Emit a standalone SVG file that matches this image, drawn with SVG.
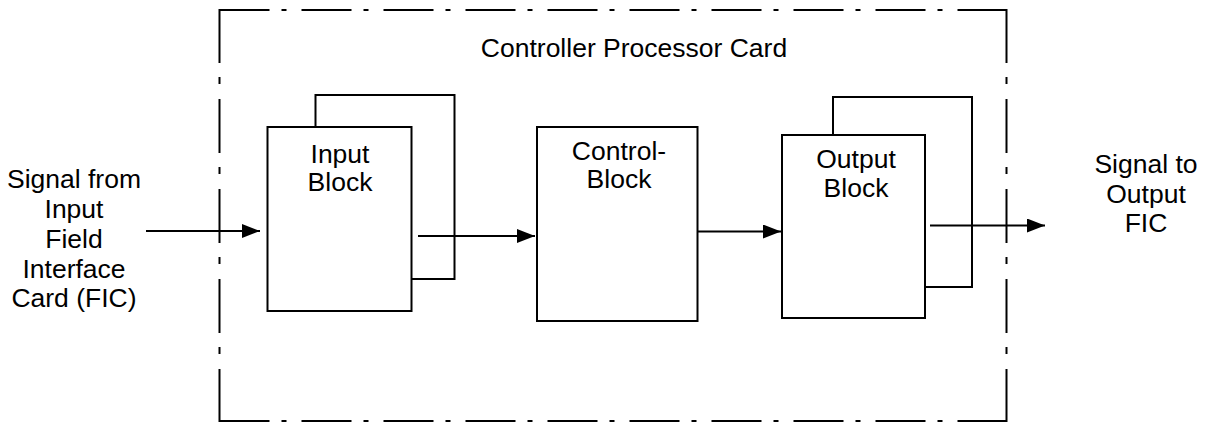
<svg xmlns="http://www.w3.org/2000/svg" width="1206" height="423" viewBox="0 0 1206 423">
<style>
.box{fill:#fff;stroke:#000;stroke-width:2}
.fh{stroke:#000;stroke-width:2;fill:none;stroke-dasharray:50 12 5 15}
.fv{stroke:#000;stroke-width:2;fill:none;stroke-dasharray:54 14 7 15}
.ln{stroke:#000;stroke-width:2;fill:none}
text{font-family:"Liberation Sans",Arial,sans-serif;font-size:26.5px;fill:#000;text-anchor:middle}
</style>
<defs>
<marker id="ah" markerUnits="userSpaceOnUse" markerWidth="18" markerHeight="14" refX="18" refY="7" orient="auto">
<path d="M0,0 L18,7 L0,14 z" fill="#000"/>
</marker>
</defs>
<g id="frame">
<line class="fh" x1="219.5" y1="10" x2="1006.5" y2="10"/>
<line class="fh" x1="219.5" y1="421" x2="1006.5" y2="421"/>
<line class="fv" x1="219.5" y1="9" x2="219.5" y2="422"/>
<line class="fv" x1="1006.5" y1="9" x2="1006.5" y2="422"/>
<text x="634" y="57">Controller Processor Card</text>
</g>
<g id="input-label">
<text x="74" y="188">Signal from</text>
<text x="74" y="218">Input</text>
<text x="74" y="248">Field</text>
<text x="74" y="278">Interface</text>
<text x="74" y="307">Card (FIC)</text>
</g>
<g id="input-block">
<rect class="box" x="315.5" y="95" width="139" height="184"/>
<rect class="box" x="267.5" y="127" width="144" height="184"/>
<text x="340" y="163">Input</text>
<text x="340" y="191">Block</text>
</g>
<g id="control-block">
<rect class="box" x="537" y="127" width="160.5" height="194"/>
<text x="619" y="159.5">Control-</text>
<text x="619" y="187.5">Block</text>
</g>
<g id="output-block">
<rect class="box" x="833" y="97" width="139" height="190"/>
<rect class="box" x="782" y="135" width="143" height="183"/>
<text x="856" y="168">Output</text>
<text x="856" y="197">Block</text>
</g>
<g id="output-label">
<text x="1146" y="173">Signal to</text>
<text x="1146" y="203">Output</text>
<text x="1146" y="232">FIC</text>
</g>
<g id="connectors">
<line class="ln" x1="146" y1="231" x2="260" y2="231" marker-end="url(#ah)"/>
<line class="ln" x1="418" y1="236" x2="535" y2="236" marker-end="url(#ah)"/>
<line class="ln" x1="697" y1="231.5" x2="781" y2="231.5" marker-end="url(#ah)"/>
<line class="ln" x1="930" y1="225.5" x2="1045" y2="225.5" marker-end="url(#ah)"/>
</g>
</svg>
